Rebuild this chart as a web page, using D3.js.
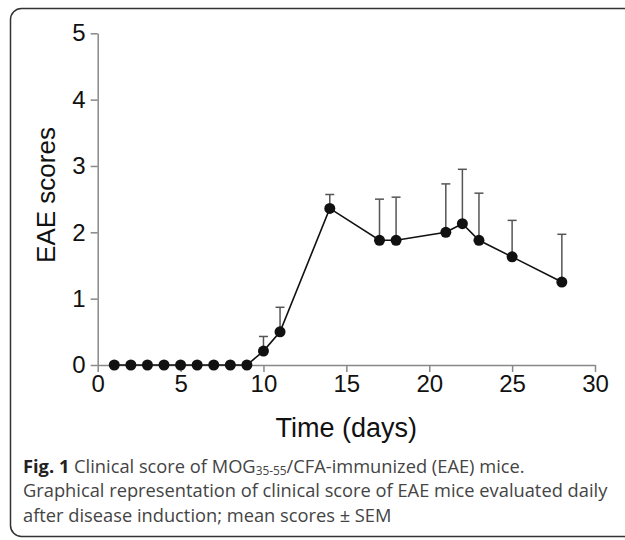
<!DOCTYPE html>
<html>
<head>
<meta charset="utf-8">
<script src="https://cdn.jsdelivr.net/npm/d3@7"></script>
<style>
body { margin: 0; background: #ffffff; }
</style>
</head>
<body>
<div class="graph"></div>
<script>

// data
var days = [1, 2, 3, 4, 5, 6, 7, 8, 9, 10, 11, 14, 17, 18, 21, 22, 23, 25, 28];
var meanScores = [0, 0, 0, 0, 0, 0, 0, 0, 0, 0.21, 0.5, 2.36, 1.88, 1.88, 2.0, 2.13, 1.88, 1.63, 1.25];
var semScores = [0, 0, 0, 0, 0, 0, 0, 0, 0, 0.22, 0.37, 0.21, 0.62, 0.65, 0.73, 0.82, 0.71, 0.55, 0.72];
var xTicks = [0, 5, 10, 15, 20, 25, 30];
var yTicks = [0, 1, 2, 3, 4, 5];

var svgWidth = 625;
var svgHeight = 540;

var svg = d3.select("div.graph")
	.append("svg")
	.attr("width", svgWidth)
	.attr("height", svgHeight)
	.style("display", "block");

// rounded frame, right side runs off the page
svg.append("rect")
	.attr("x", 10.5)
	.attr("y", 8.5)
	.attr("width", 660)
	.attr("height", 528)
	.attr("rx", 11)
	.attr("fill", "none")
	.attr("stroke", "#333")
	.attr("stroke-width", 1.5);

var x = d3.scaleLinear().domain([0, 30]).range([97.7, 595]);
var y = d3.scaleLinear().domain([0, 5]).range([365, 33.3]);

var points = days.map(function(d, n) {
	return {day: d, mean: meanScores[n], sem: semScores[n]};
});

var xAxis = d3.axisBottom(x).tickValues(xTicks).tickFormat(d3.format("d"))
	.tickSize(7).tickSizeOuter(0).tickPadding(3);
var yAxis = d3.axisLeft(y).tickValues(yTicks).tickFormat(d3.format("d"))
	.tickSize(7).tickSizeOuter(0).tickPadding(5);

var gAxisX = svg.append("g").attr("transform", "translate(0," + y(0) + ")").call(xAxis);
var gAxisY = svg.append("g").attr("transform", "translate(" + x(0) + ",0)").call(yAxis);

[gAxisX, gAxisY].forEach(function(g) {
	g.select(".domain").attr("stroke", "#888").attr("stroke-width", 1.5);
	g.selectAll(".tick line").attr("stroke", "#888").attr("stroke-width", 1.5);
	g.selectAll(".tick text")
		.attr("fill", "#111")
		.style("font-family", "Liberation Sans, Arial, sans-serif")
		.style("font-size", "24px");
});

// error bars (upper only)
var gErr = svg.append("g");
var errPts = points.filter(function(d) { return d.sem > 0; });

gErr.selectAll("line.stem")
	.data(errPts)
	.enter()
	.append("line")
	.attr("class", "stem")
	.attr("x1", function(d) { return x(d.day); })
	.attr("x2", function(d) { return x(d.day); })
	.attr("y1", function(d) { return y(d.mean); })
	.attr("y2", function(d) { return y(d.mean + d.sem); })
	.attr("stroke", "#555")
	.attr("stroke-width", 1.5);

gErr.selectAll("line.cap")
	.data(errPts)
	.enter()
	.append("line")
	.attr("class", "cap")
	.attr("x1", function(d) { return x(d.day) - 4.5; })
	.attr("x2", function(d) { return x(d.day) + 4.5; })
	.attr("y1", function(d) { return y(d.mean + d.sem); })
	.attr("y2", function(d) { return y(d.mean + d.sem); })
	.attr("stroke", "#555")
	.attr("stroke-width", 1.5);

var line = d3.line()
	.x(function(d) { return x(d.day); })
	.y(function(d) { return y(d.mean); });

svg.append("path")
	.datum(points)
	.attr("d", line)
	.attr("fill", "none")
	.attr("stroke", "#111")
	.attr("stroke-width", 1.6);

svg.append("g").selectAll("circle")
	.data(points)
	.enter()
	.append("circle")
	.attr("cx", function(d) { return x(d.day); })
	.attr("cy", function(d) { return y(d.mean); })
	.attr("r", 5.5)
	.attr("fill", "#111");

// axis titles
svg.append("text")
	.attr("x", (x(0) + x(30)) / 2)
	.attr("y", 437)
	.attr("text-anchor", "middle")
	.style("font-family", "Liberation Sans, Arial, sans-serif")
	.style("font-size", "27px")
	.attr("fill", "#111")
	.text("Time (days)");

svg.append("text")
	.attr("transform", "translate(55,195) rotate(-90)")
	.attr("text-anchor", "middle")
	.style("font-family", "Liberation Sans, Arial, sans-serif")
	.style("font-size", "26px")
	.attr("fill", "#111")
	.text("EAE scores");

// caption
var gCap = svg.append("g");
var capFont = "Open Sans, sans-serif";

var l1 = gCap.append("text").attr("x", 0).attr("y", 473)
	.style("font-family", capFont).style("font-size", "18.5px").attr("fill", "#444");
l1.append("tspan").attr("font-weight", "bold").attr("fill", "#222").text("Fig. 1");
l1.append("tspan").text(" Clinical score of MOG");
l1.append("tspan").attr("dy", 2.5).style("font-size", "12px").text("35-55");
l1.append("tspan").attr("dy", -2.5).text("/CFA-immunized (EAE) mice.");

var l2 = gCap.append("text").attr("x", 0).attr("y", 497.5)
	.style("font-family", capFont).style("font-size", "18.5px").attr("fill", "#444")
	.text("Graphical representation of clinical score of EAE mice evaluated daily");

gCap.append("text").attr("x", 0).attr("y", 522)
	.style("font-family", capFont).style("font-size", "18.5px").attr("fill", "#444")
	.text("after disease induction; mean scores \u00b1 SEM");

// squeeze caption to the width it has in the figure
var capScale = 585 / l2.node().getComputedTextLength();
gCap.attr("transform", "translate(23,0) scale(" + capScale + ",1)");

</script>
</body>
</html>
